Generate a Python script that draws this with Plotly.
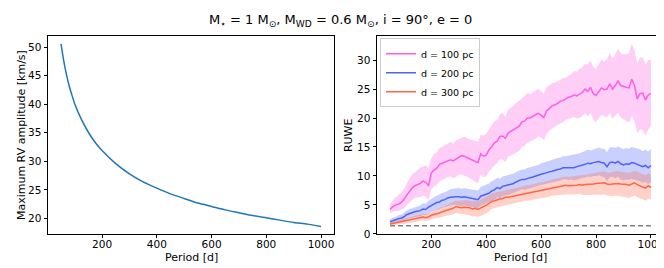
import plotly.graph_objects as go

# ---------------- data ----------------
# Left panel: maximum RV amplitude vs period
rv_period = [50, 60, 70, 80, 90, 100, 125, 150, 175, 200, 250, 300, 350, 400, 450,
             500, 550, 600, 650, 700, 750, 800, 850, 900, 950, 1000]
rv_amp = [50.6, 47.6, 45.2, 43.2, 41.6, 40.1, 37.3, 35.1, 33.3, 31.9, 29.6, 27.8, 26.4,
          25.3, 24.3, 23.5, 22.7, 22.1, 21.5, 21.0, 20.5, 20.1, 19.7, 19.3, 19.0, 18.6]

# Right panel: RUWE vs period (10-day grid from 50 to 1000)
period = list(range(50, 1001, 10))

ruwe_100 = [4.2, 4.7, 5.0, 5.1, 5.4, 5.9, 6.6, 7.3, 7.9, 8.3, 8.5, 8.7, 9.1, 8.9, 8.3, 10.5,
            11.0, 11.3, 12.0, 12.2, 12.4, 12.6, 12.8, 12.6, 12.9, 13.3, 13.5, 13.4, 13.2, 13.0,
            12.8, 12.5, 12.3, 13.8, 13.4, 13.6, 14.5, 15.0, 15.7, 16.0, 16.8, 16.9, 16.5, 17.4,
            17.7, 18.0, 18.2, 18.6, 19.3, 19.5, 20.0, 20.0, 20.3, 20.5, 20.8, 20.5, 20.1, 21.2,
            21.6, 22.1, 22.3, 22.5, 22.9, 23.0, 23.3, 23.6, 23.7, 24.0, 23.8, 24.1, 24.4, 25.0,
            24.6, 25.3, 24.2, 23.9, 24.6, 25.2, 24.9, 25.0, 25.9, 25.0, 25.6, 26.4, 25.6, 25.4,
            25.3, 25.2, 26.7, 25.6, 23.3, 24.2, 24.3, 23.1, 24.0, 24.2]
ruwe_100_hi = [5.2, 5.8, 6.3, 6.6, 7.2, 7.7, 8.6, 9.5, 10.3, 10.6, 11.0, 11.4, 11.6, 11.9, 11.3,
               13.0, 13.8, 14.0, 14.8, 15.0, 15.4, 15.5, 15.9, 15.6, 16.1, 16.4, 16.6, 16.8, 16.5,
               16.3, 16.2, 16.0, 15.9, 17.1, 17.0, 17.3, 18.1, 18.9, 19.5, 19.6, 20.6, 20.9, 20.2,
               21.4, 21.8, 22.1, 22.5, 22.9, 23.4, 23.8, 24.3, 24.1, 24.5, 24.8, 25.0, 24.6, 24.2,
               25.3, 25.6, 26.0, 26.1, 26.3, 26.6, 26.9, 26.9, 27.3, 27.6, 28.1, 28.0, 28.5, 28.7,
               29.4, 29.2, 30.0, 28.8, 28.5, 29.4, 30.1, 29.7, 30.2, 31.2, 30.3, 31.0, 32.0, 31.2,
               31.0, 31.0, 31.2, 32.8, 31.8, 29.5, 30.4, 30.5, 29.3, 30.0, 30.0]
ruwe_100_lo = [3.5, 3.8, 3.9, 3.9, 4.1, 4.4, 4.9, 5.4, 5.8, 6.2, 6.3, 6.3, 6.6, 6.4, 5.9, 7.6,
               8.2, 8.4, 9.1, 9.3, 9.5, 9.8, 9.9, 9.6, 9.8, 10.2, 10.3, 10.0, 9.9, 9.5, 9.3, 9.0,
               8.7, 10.3, 9.8, 9.9, 10.7, 11.3, 11.8, 12.2, 12.9, 12.8, 12.4, 13.3, 13.5, 13.8,
               14.1, 14.3, 15.0, 15.2, 15.7, 15.9, 16.2, 16.4, 16.8, 16.6, 16.2, 17.2, 17.8, 18.2,
               18.5, 18.8, 19.1, 19.3, 19.7, 19.9, 20.0, 20.2, 19.9, 20.0, 20.3, 20.8, 20.3, 20.9,
               19.7, 19.3, 20.0, 20.5, 20.3, 20.1, 20.8, 19.9, 20.4, 20.9, 20.1, 19.9, 19.5, 19.2,
               20.4, 19.5, 17.4, 18.0, 17.9, 17.0, 18.0, 18.6]

ruwe_200 = [2.1, 2.3, 2.4, 2.6, 2.7, 2.9, 3.3, 3.5, 3.6, 3.8, 3.9, 4.0, 4.3, 4.2, 4.6, 4.9,
            5.2, 5.4, 5.5, 5.8, 5.9, 6.2, 6.3, 6.4, 6.4, 6.4, 6.3, 6.4, 6.3, 6.2, 6.2, 6.0, 5.9,
            6.5, 6.7, 6.9, 7.0, 7.4, 7.6, 8.0, 7.8, 8.2, 8.3, 8.4, 8.6, 8.7, 9.0, 9.2, 9.4, 9.4,
            9.6, 9.7, 9.8, 10.0, 10.1, 10.3, 10.4, 10.6, 10.7, 10.8, 11.0, 11.1, 11.2, 11.4,
            11.4, 11.4, 11.5, 11.4, 11.6, 11.7, 11.9, 12.0, 12.2, 12.1, 12.3, 12.4, 12.5, 12.3,
            12.2, 11.6, 12.3, 12.4, 12.2, 12.5, 12.1, 11.9, 12.1, 12.0, 12.3, 12.2, 12.0, 11.9,
            11.6, 11.8, 11.4, 11.8]
ruwe_200_hi = [2.5, 2.8, 2.9, 3.2, 3.3, 3.6, 4.0, 4.3, 4.4, 4.6, 4.8, 4.9, 5.3, 5.2, 5.7, 6.0,
               6.4, 6.6, 6.8, 7.1, 7.2, 7.5, 7.7, 7.8, 7.9, 7.9, 7.8, 7.9, 7.8, 7.7, 7.7, 7.6,
               7.5, 8.1, 8.3, 8.6, 8.7, 9.1, 9.3, 9.7, 9.5, 9.9, 10.0, 10.1, 10.3, 10.4, 10.7,
               10.9, 11.1, 11.1, 11.4, 11.5, 11.6, 11.8, 11.9, 12.2, 12.3, 12.5, 12.6, 12.8, 13.0,
               13.1, 13.2, 13.4, 13.4, 13.5, 13.6, 13.6, 13.8, 13.9, 14.1, 14.3, 14.5, 14.4, 14.6,
               14.8, 14.9, 14.7, 14.7, 14.1, 14.9, 15.0, 14.8, 15.1, 14.8, 14.6, 14.8, 14.7, 15.0,
               14.9, 14.7, 14.6, 14.3, 14.5, 14.2, 14.7]
ruwe_200_lo = [1.6, 1.8, 1.9, 2.0, 2.1, 2.2, 2.5, 2.7, 2.8, 2.9, 3.0, 3.0, 3.3, 3.2, 3.5, 3.8,
               4.0, 4.2, 4.3, 4.5, 4.6, 4.8, 4.9, 5.0, 5.0, 4.9, 4.8, 4.9, 4.8, 4.7, 4.6, 4.5,
               4.4, 4.9, 5.1, 5.3, 5.4, 5.7, 5.9, 6.3, 6.1, 6.5, 6.6, 6.7, 6.9, 7.0, 7.3, 7.5,
               7.7, 7.6, 7.8, 7.9, 8.0, 8.2, 8.3, 8.4, 8.5, 8.7, 8.8, 8.8, 9.0, 9.1, 9.2, 9.4,
               9.4, 9.3, 9.4, 9.2, 9.4, 9.5, 9.7, 9.7, 9.9, 9.8, 10.0, 10.0, 10.1, 9.9, 9.8, 9.1,
               9.8, 9.8, 9.6, 9.9, 9.4, 9.2, 9.4, 9.3, 9.5, 9.4, 9.2, 9.1, 8.8, 9.0, 8.6, 9.0]

ruwe_300 = [1.7, 1.8, 1.9, 2.0, 2.0, 2.1, 2.3, 2.4, 2.5, 2.6, 2.7, 2.8, 2.9, 2.8, 2.9, 3.2,
            3.3, 3.5, 3.6, 3.8, 4.0, 4.1, 4.3, 4.4, 4.7, 4.6, 4.5, 4.6, 4.6, 4.5, 4.3, 4.4, 4.2,
            4.5, 4.7, 4.9, 5.2, 5.6, 5.7, 5.9, 6.0, 6.1, 6.3, 6.3, 6.4, 6.6, 6.6, 6.8, 6.9, 7.0,
            7.0, 7.1, 7.2, 7.3, 7.4, 7.5, 7.6, 7.7, 7.8, 8.0, 8.1, 8.1, 8.2, 8.3, 8.4, 8.3, 8.3,
            8.4, 8.4, 8.5, 8.4, 8.5, 8.5, 8.6, 8.6, 8.7, 8.7, 8.8, 8.8, 8.6, 8.5, 8.6, 8.7, 8.7,
            8.6, 8.6, 8.5, 8.4, 8.6, 8.8, 8.5, 8.3, 8.2, 7.9, 8.3, 8.0]
ruwe_300_hi = [1.9, 2.1, 2.2, 2.3, 2.4, 2.5, 2.7, 2.8, 3.0, 3.1, 3.2, 3.4, 3.5, 3.4, 3.6, 3.9,
               4.0, 4.3, 4.4, 4.7, 4.9, 5.0, 5.3, 5.4, 5.7, 5.7, 5.7, 5.8, 5.9, 5.8, 5.6, 5.8,
               5.6, 5.9, 6.2, 6.4, 6.6, 7.0, 7.1, 7.2, 7.3, 7.4, 7.6, 7.6, 7.7, 7.9, 7.9, 8.1,
               8.2, 8.3, 8.3, 8.4, 8.5, 8.6, 8.8, 8.9, 9.0, 9.1, 9.2, 9.4, 9.5, 9.6, 9.7, 9.8,
               9.9, 9.8, 9.9, 10.0, 10.0, 10.1, 10.1, 10.2, 10.3, 10.4, 10.4, 10.6, 10.6, 10.7,
               10.8, 10.6, 10.5, 10.7, 10.8, 10.8, 10.7, 10.7, 10.6, 10.5, 10.7, 10.9, 10.7, 10.5,
               10.4, 10.1, 10.5, 10.2]
ruwe_300_lo = [1.4, 1.5, 1.6, 1.6, 1.7, 1.7, 1.8, 1.9, 2.0, 2.1, 2.1, 2.2, 2.3, 2.2, 2.3, 2.5,
               2.6, 2.7, 2.8, 3.0, 3.1, 3.2, 3.3, 3.4, 3.6, 3.5, 3.4, 3.4, 3.3, 3.2, 3.0, 3.1,
               2.9, 3.1, 3.3, 3.5, 3.8, 4.3, 4.4, 4.6, 4.7, 4.8, 5.0, 5.0, 5.1, 5.3, 5.3, 5.5,
               5.6, 5.7, 5.7, 5.8, 5.9, 6.0, 6.1, 6.1, 6.2, 6.3, 6.4, 6.6, 6.7, 6.7, 6.7, 6.8,
               6.9, 6.8, 6.8, 6.8, 6.8, 6.9, 6.7, 6.8, 6.7, 6.8, 6.8, 6.8, 6.8, 6.8, 6.8, 6.6,
               6.5, 6.5, 6.6, 6.6, 6.5, 6.4, 6.3, 6.2, 6.4, 6.6, 6.3, 6.1, 6.0, 5.7, 6.1, 5.9]

ruwe_threshold = 1.4
series_names = ["d = 100 pc", "d = 200 pc", "d = 300 pc"]

# ---------------- styles ----------------
FONT = "DejaVu Sans"
line_colors = ["rgb(255,94,228)", "rgb(78,98,250)", "rgb(255,102,72)"]
fill_colors = ["rgba(255,94,228,0.3)", "rgba(78,98,250,0.3)", "rgba(255,102,72,0.3)"]

W, H = 664, 268
def px_x(p):
    return p / W
def px_y(p):
    return (H - p) / H

fig = go.Figure()

# Left panel
fig.add_trace(go.Scatter(x=rv_period, y=rv_amp, mode="lines",
                         line=dict(color="#1f77b4", width=1.5, shape="spline", smoothing=0.6),
                         showlegend=False, xaxis="x", yaxis="y"))

# Right panel bands
series = [(ruwe_100, ruwe_100_lo, ruwe_100_hi),
          (ruwe_200, ruwe_200_lo, ruwe_200_hi),
          (ruwe_300, ruwe_300_lo, ruwe_300_hi)]
for i, (mid, lo, hi) in enumerate(series):
    fig.add_trace(go.Scatter(x=period + period[::-1], y=hi + lo[::-1], mode="lines",
                             fill="toself", fillcolor=fill_colors[i],
                             line=dict(width=0, color=fill_colors[i]),
                             hoverinfo="skip", showlegend=False,
                             xaxis="x2", yaxis="y2"))
for i, (mid, lo, hi) in enumerate(series):
    fig.add_trace(go.Scatter(x=period, y=mid, mode="lines", name=series_names[i],
                             line=dict(color=line_colors[i], width=1.5),
                             xaxis="x2", yaxis="y2"))

fig.add_trace(go.Scatter(x=[period[0], period[-1]], y=[ruwe_threshold, ruwe_threshold],
                         mode="lines", line=dict(color="gray", width=1.5, dash="5px,3px"),
                         showlegend=False, xaxis="x2", yaxis="y2"))

axis_common = dict(showgrid=False, zeroline=False, showline=True, linecolor="black",
                   linewidth=1, mirror=True, ticks="outside", ticklen=3.5, tickwidth=1,
                   tickcolor="black", tickfont=dict(family=FONT, size=10.5, color="black"))

y_bot = px_y(231)
y_top = px_y(29)

fig.update_layout(
    width=W, height=H,
    margin=dict(l=0, r=0, t=0, b=0),
    paper_bgcolor="white", plot_bgcolor="white",
    font=dict(family=FONT, color="black"),
    xaxis=dict(domain=[px_x(40), px_x(326)], range=[2.5, 1047.5], ticklabelstandoff=-3,
               tickvals=[200, 400, 600, 800, 1000], anchor="y", **axis_common),
    yaxis=dict(domain=[y_bot, y_top], range=[17.3, 51.9],
               tickvals=[20, 25, 30, 35, 40, 45, 50], anchor="x", **axis_common),
    xaxis2=dict(domain=[px_x(369), px_x(656)], range=[2.5, 1047.5], ticklabelstandoff=-3,
                tickvals=[200, 400, 600, 800, 1000], anchor="y2", **axis_common),
    yaxis2=dict(domain=[y_bot, y_top], range=[0, 34.1],
                tickvals=[0, 5, 10, 15, 20, 25, 30], anchor="x2", **axis_common),
    legend=dict(x=px_x(372), y=px_y(31), xanchor="left", yanchor="top",
                bgcolor="rgba(255,255,255,0.8)", bordercolor="#cccccc", borderwidth=1,
                font=dict(family=FONT, size=9.5, color="black"),
                itemwidth=30, tracegroupgap=0),
    showlegend=True,
)

annotations = [
    dict(text="M<sub>⋆</sub> = 1 M<sub>⊙</sub>, M<sub>WD</sub> = 0.6 M<sub>⊙</sub>, i = 90°, e = 0",
         x=0.5, y=px_y(13), xref="paper", yref="paper", showarrow=False,
         xanchor="center", yanchor="middle", font=dict(family=FONT, size=13)),
    dict(text="Period [d]", x=px_x(183), y=px_y(255), xref="paper", yref="paper",
         showarrow=False, xanchor="center", yanchor="middle", font=dict(family=FONT, size=11)),
    dict(text="Period [d]", x=px_x(512), y=px_y(255), xref="paper", yref="paper",
         showarrow=False, xanchor="center", yanchor="middle", font=dict(family=FONT, size=11)),
    dict(text="Maximum RV amplitude [km/s]", x=px_x(13), y=px_y(130), xref="paper",
         yref="paper", showarrow=False, textangle=-90, xanchor="center", yanchor="middle",
         font=dict(family=FONT, size=11)),
    dict(text="RUWE", x=px_x(340), y=px_y(130), xref="paper", yref="paper",
         showarrow=False, textangle=-90, xanchor="center", yanchor="middle",
         font=dict(family=FONT, size=11)),
]
fig.update_layout(annotations=annotations)

fig.write_html("out.html")
